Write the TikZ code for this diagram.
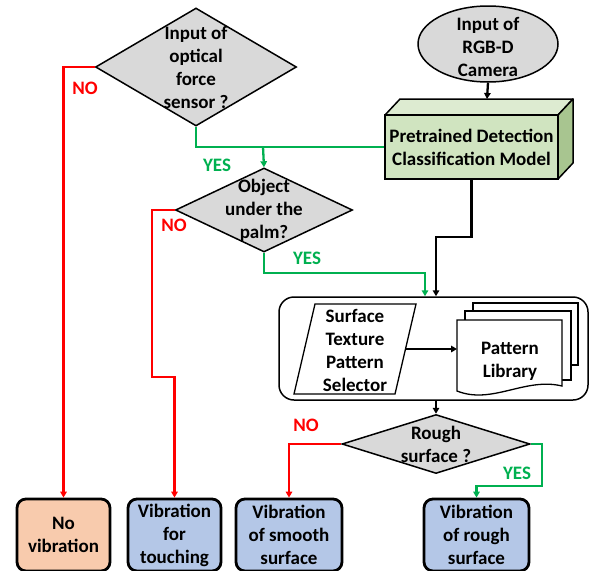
\documentclass[tikz,border=0pt]{standalone}
\usepackage{fontspec}
\setmainfont{Carlito}
\usetikzlibrary{shapes.geometric,arrows.meta,calc}
\definecolor{decgrey}{HTML}{D9D9D9}
\definecolor{outblue}{HTML}{B4C7E7}
\definecolor{outpeach}{HTML}{F8CBAD}
\definecolor{ygreen}{HTML}{00B050}
\definecolor{nred}{HTML}{FF0000}
\definecolor{boxfront}{HTML}{D0E4C0}
\definecolor{boxtop}{HTML}{DDEBD1}
\definecolor{boxside}{HTML}{A8C590}
\begin{document}
\begin{tikzpicture}[x=1pt,y=-1pt,
  every node/.style={font=\fontsize{19}{23}\selectfont\bfseries, align=center},
  decision/.style={diamond, draw, line width=1.5pt, fill=decgrey, inner sep=0pt},
  outbox/.style={draw, line width=2.8pt, rounded corners=9pt, fill=outblue,
                 minimum height=72pt, inner sep=0pt},
  yesline/.style={draw=ygreen, line width=2.3pt},
  noline/.style={draw=nred, line width=2.3pt},
  flow/.style={draw=black, line width=2.3pt},
  tip/.style={-{Triangle[length=6pt,width=6.5pt]}},
  yeslabel/.style={text=ygreen},
  nolabel/.style={text=nred}]
\useasboundingbox (0,0) rectangle (591,570);
\clip (0,0) rectangle (591,570);

% decisions
\node[decision, minimum width=201pt, minimum height=118pt,
      label={center:Input of\\optical\\force\\sensor ?}] (d1) at (196,67) {};
\node[decision, minimum width=177pt, minimum height=84pt,
      label={center:Object\\under the\\palm?}] (d2) at (264,210) {};
\node[decision, minimum width=188pt, minimum height=59pt,
      label={center:Rough\\surface ?}] (d3) at (436,444) {};

% camera input
\node[ellipse, draw, line width=1.5pt, fill=decgrey, minimum width=140pt,
      minimum height=76pt, inner sep=0pt] (cam) at (488,44) {};
\node at (488,47) {Input of\\RGB-D\\Camera};

% 3D model box
\fill[boxtop, draw=black, line width=1.5pt, line join=round]
  (385,115) -- (400,99) -- (573,99) -- (558,115) -- cycle;
\fill[boxside, draw=black, line width=1.5pt, line join=round]
  (558,115) -- (573,99) -- (573,163) -- (558,179) -- cycle;
\node[draw, line width=1.5pt, fill=boxfront, minimum width=173pt,
      minimum height=64pt, inner sep=0pt] (ptm) at (471.5,147)
      {Pretrained Detection\\Classification Model};
\coordinate (ptmtop) at (487,99);

% texture group
\node[draw, line width=1.5pt, rounded corners=15pt, minimum width=309pt,
      minimum height=103pt, inner sep=0pt] (grp) at (433.5,348.5) {};
\draw[line width=1.3pt, fill=white] (315,304) -- (416,304) -- (395,394) -- (294,394) -- cycle;
\node (sel) at (355,350) {Surface\\Texture\\Pattern\\Selector};
\coordinate (selR) at (406,349);

% pattern library (stacked documents)
\draw[line width=1.3pt, fill=white] (473,303) rectangle (578,365);
\draw[line width=1.3pt, fill=white] (465,311) rectangle (571,380);
\draw[line width=1.3pt, fill=white] (457,320) -- (562,320) -- (562,386)
  .. controls (525,377) and (492,405) .. (457,391) -- cycle;
\node (lib) at (510,361) {Pattern\\Library};
\coordinate (libL) at (457,349);

% outcomes
\node[outbox, fill=outpeach, minimum width=93pt] (b1) at (63.5,535) {No\\vibration};
\node[outbox, minimum width=93pt] (b2) at (174.5,535) {Vibration\\for\\touching};
\node[outbox, minimum width=106pt] (b3) at (289,535) {Vibration\\of smooth\\surface};
\node[outbox, minimum width=105pt] (b4) at (476.5,535) {Vibration\\of rough\\surface};

% junction points
\coordinate (j1) at (263,147);
\coordinate (g1) at (425,273);
\coordinate (k1) at (436,237);
\coordinate (n2a) at (152,210);
\coordinate (n2b) at (152,377);
\coordinate (y3a) at (542,444);
\coordinate (y3b) at (542,486);

% connectors
\draw[noline, tip] (d1.west) -| (b1.north);
\draw[yesline] (d1.south) |- (ptm.west);
\draw[yesline, tip] (j1) -- (d2.north);
\draw[noline, tip] (d2.west) -- (n2a) -- (n2b) -| (b2.north);
\draw[yesline, tip] (d2.south) |- (g1) -- (g1 |- grp.north);
\draw[flow, tip] (cam.south) -- (ptmtop);
\draw[flow, tip] (ptm.south) |- (k1) -- (k1 |- grp.north);
\draw[flow, tip] (selR) -- (libL);
\draw[flow, tip] (k1 |- grp.south) -- (d3.north);
\draw[noline, tip] (d3.west) -| (b3.north);
\draw[yesline, tip] (d3.east) -- (y3a) -- (y3b) -| (b4.north);

% branch labels
\node[nolabel] at (85,88) {NO};
\node[yeslabel] at (217,165) {YES};
\node[nolabel] at (174,225) {NO};
\node[yeslabel] at (307,258) {YES};
\node[nolabel] at (306,425) {NO};
\node[yeslabel] at (517,473) {YES};
\end{tikzpicture}
\end{document}
